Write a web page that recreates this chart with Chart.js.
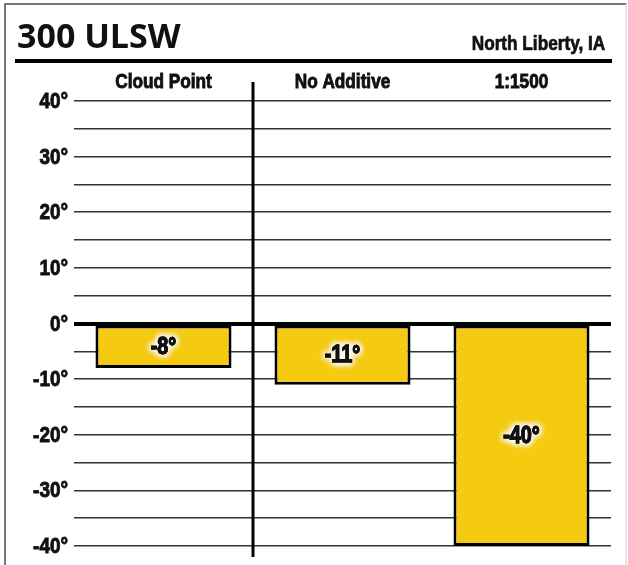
<!DOCTYPE html>
<html>
<head>
<meta charset="utf-8">
<script src="https://cdn.jsdelivr.net/npm/chart.js@4/dist/chart.umd.min.js"></script>
<style>
  html, body { margin: 0; padding: 0; background: #fff; }
  #wrap { position: relative; width: 628px; height: 565px; overflow: hidden; }
  #frame { position: absolute; left: 4px; top: 3px; width: 623px; height: 570px; box-sizing: border-box;
           border: 2px solid #777; border-right-color: #e6e6e6; border-bottom: none; }
  #title { position: absolute; left: 17px; top: 18px; font: 700 34px/34px "Open Sans", sans-serif; color: #111; white-space: nowrap; }
  #place { position: absolute; right: 23px; top: 33px; font: 700 20px/20px "Liberation Sans", Arial, sans-serif; color: #111;
           white-space: nowrap; transform: scaleX(0.86); transform-origin: right center; -webkit-text-stroke: 0.7px #111; }
  #rule { position: absolute; left: 15px; top: 59px; width: 597px; height: 4px; background: #000; }
  #chart { position: absolute; left: 0; top: 0; }
</style>
</head>
<body>
<div id="wrap">
  <div id="frame"></div>
  <canvas id="chart" width="628" height="565"></canvas>
  <div id="title">300 ULSW</div>
  <div id="place">North Liberty, IA</div>
  <div id="rule"></div>
</div>
<script>
  const categories = ['Cloud Point', 'No Additive', '1:1500'];
  const tempValues = [-8, -11, -40];
  const tickMin = -40;
  const tickMax = 40;
  const tickStep = 5;     // a grid line every 5 degrees
  const labelStep = 10;   // but a label only every 10

  // squeezed, thickened bold text, stands in for a condensed heavy face
  function narrowText(ctx, txt, x, y, size, sx){
    ctx.save();
    ctx.translate(x, y);
    ctx.scale(sx, 1);
    ctx.font = `700 ${size}px "Liberation Sans", Arial, sans-serif`;
    ctx.fillText(txt, 0, 0);
    ctx.lineWidth = 0.9;
    ctx.strokeStyle = ctx.fillStyle;
    ctx.strokeText(txt, 0, 0);
    ctx.restore();
  }

  // column names above the plot and degree labels down the left
  const axisText = {
    id: 'axisText',
    afterDraw(chart){
      const ctx = chart.ctx;
      const x = chart.scales.x, y = chart.scales.y;
      ctx.save();
      ctx.fillStyle = '#111';
      ctx.textAlign = 'center';
      ctx.textBaseline = 'alphabetic';
      chart.data.labels.forEach((lbl, i)=> narrowText(ctx, lbl, x.getPixelForValue(i), chart.chartArea.top - 13, 20, 0.86));
      ctx.textAlign = 'right';
      ctx.textBaseline = 'middle';
      y.ticks.forEach(t=>{
        if (t.value % labelStep !== 0) return;
        narrowText(ctx, `${t.value}°`, y.right - 6, y.getPixelForValue(t.value) + 1, 22, 0.86);
      });
      ctx.restore();
    }
  };

  // bold value inside each bar, with a soft white halo
  const barLabels = {
    id: 'barLabels',
    afterDatasetsDraw(chart){
      const ctx = chart.ctx;
      const meta = chart.getDatasetMeta(0);
      ctx.save();
      ctx.textAlign = 'center';
      ctx.textBaseline = 'middle';
      ctx.fillStyle = '#111';
      meta.data.forEach((bar, i)=>{
        const txt = `${chart.data.datasets[0].data[i]}°`;
        const y = (bar.y + bar.base) / 2 + 1;
        ctx.shadowColor = '#fff';
        ctx.shadowBlur = 7;
        for (let k = 0; k < 4; k++) narrowText(ctx, txt, bar.x, y, 23, 0.86);
        ctx.shadowBlur = 0;
        narrowText(ctx, txt, bar.x, y, 23, 0.86);
      });
      ctx.restore();
    }
  };

  // heavy rule separating the first column from the others
  const divider = {
    id: 'divider',
    afterDatasetsDraw(chart){
      const x = chart.scales.x;
      const area = chart.chartArea;
      const px = (x.getPixelForValue(0) + x.getPixelForValue(1)) / 2;
      const ctx = chart.ctx;
      ctx.save();
      ctx.strokeStyle = '#000';
      ctx.lineWidth = 3;
      ctx.beginPath();
      ctx.moveTo(px, area.top - 19);
      ctx.lineTo(px, area.bottom + 11);
      ctx.stroke();
      ctx.restore();
    }
  };

  new Chart(document.getElementById('chart'), {
    type: 'bar',
    data: {
      labels: categories,
      datasets: [{
        data: tempValues,
        backgroundColor: '#f5cb12',
        borderColor: '#000',
        borderWidth: 3,
        borderSkipped: false,
        barPercentage: 0.76,
        categoryPercentage: 1
      }]
    },
    options: {
      responsive: false,
      animation: false,
      devicePixelRatio: 1,
      layout: { padding: { top: 62, left: 0, right: 17, bottom: 19 } },
      plugins: { legend: { display: false }, tooltip: { enabled: false } },
      scales: {
        x: {
          position: 'top',
          afterFit: s => { s.height = 39; },
          grid: { display: false },
          border: { display: false },
          ticks: { display: false }
        },
        y: {
          min: tickMin,
          max: tickMax,
          afterFit: s => { s.width = 74; },
          border: { display: false },
          grid: {
            drawTicks: false,
            color: ctx => ctx.tick && ctx.tick.value === 0 ? '#000' : '#333',
            lineWidth: ctx => ctx.tick && ctx.tick.value === 0 ? 4 : 1.6
          },
          ticks: { stepSize: tickStep, display: false }
        }
      }
    },
    plugins: [divider, barLabels, axisText]
  });
</script>
</body>
</html>
